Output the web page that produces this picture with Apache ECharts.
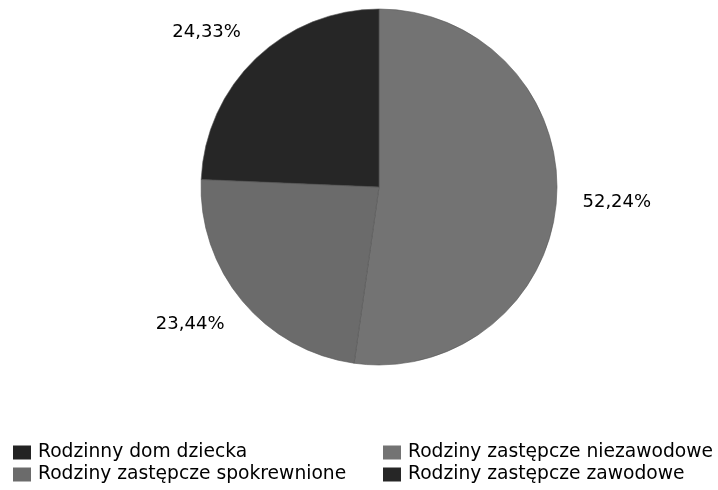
<!DOCTYPE html>
<html>
<head>
<meta charset="utf-8">
<script src="https://cdn.jsdelivr.net/npm/echarts@6/dist/echarts.min.js"></script>
<style>
  html, body { margin: 0; padding: 0; background: #fff; }
  #chart { width: 718px; height: 490px; }
</style>
</head>
<body>
<div id="chart"></div>
<script>
// kategorie i udziały (%)
const categories = [
  'Rodzinny dom dziecka',
  'Rodziny zastępcze niezawodowe',
  'Rodziny zastępcze spokrewnione',
  'Rodziny zastępcze zawodowe'
]
const shares = [0, 52.24, 23.44, 24.33]
const colors = ['#232323', '#737373', '#6b6b6b', '#262626']

const legendLeft = [categories[0], categories[2]]
const legendRight = [categories[1], categories[3]]

const font = 'DejaVu Sans'

const chart = echarts.init(document.getElementById('chart'))

const pieData = categories.map((name, i) => ({
  name: name,
  value: shares[i],
  itemStyle: { color: colors[i] },
  label: { show: shares[i] > 0 }
}))

const legendBase = {
  orient: 'vertical',
  top: 443,
  padding: 0,
  itemGap: 3,
  itemWidth: 18,
  itemHeight: 14,
  icon: 'rect',
  itemStyle: { borderWidth: 0 },
  textStyle: { fontFamily: font, fontSize: 18.7, lineHeight: 18, color: '#000', padding: [0, 0, 0, 2] }
}

const option = {
  animation: false,
  color: colors,
  legend: [
    Object.assign({}, legendBase, { left: 13, data: legendLeft }),
    Object.assign({}, legendBase, { left: 383, data: legendRight })
  ],
  series: [
    {
      type: 'pie',
      center: [379, 187],
      radius: 178,
      startAngle: 90,
      clockwise: true,
      avoidLabelOverlap: false,
      itemStyle: { borderColor: '#555', borderWidth: 0.6 },
      label: {
        position: 'outside',
        fontFamily: font,
        fontSize: 18,
        color: '#000',
        formatter: p => p.value.toFixed(2).replace('.', ',') + '%'
      },
      labelLine: { show: false, length: 36, length2: -15 },
      emphasis: { disabled: true },
      data: pieData
    }
  ]
}

chart.setOption(option)
</script>
</body>
</html>
